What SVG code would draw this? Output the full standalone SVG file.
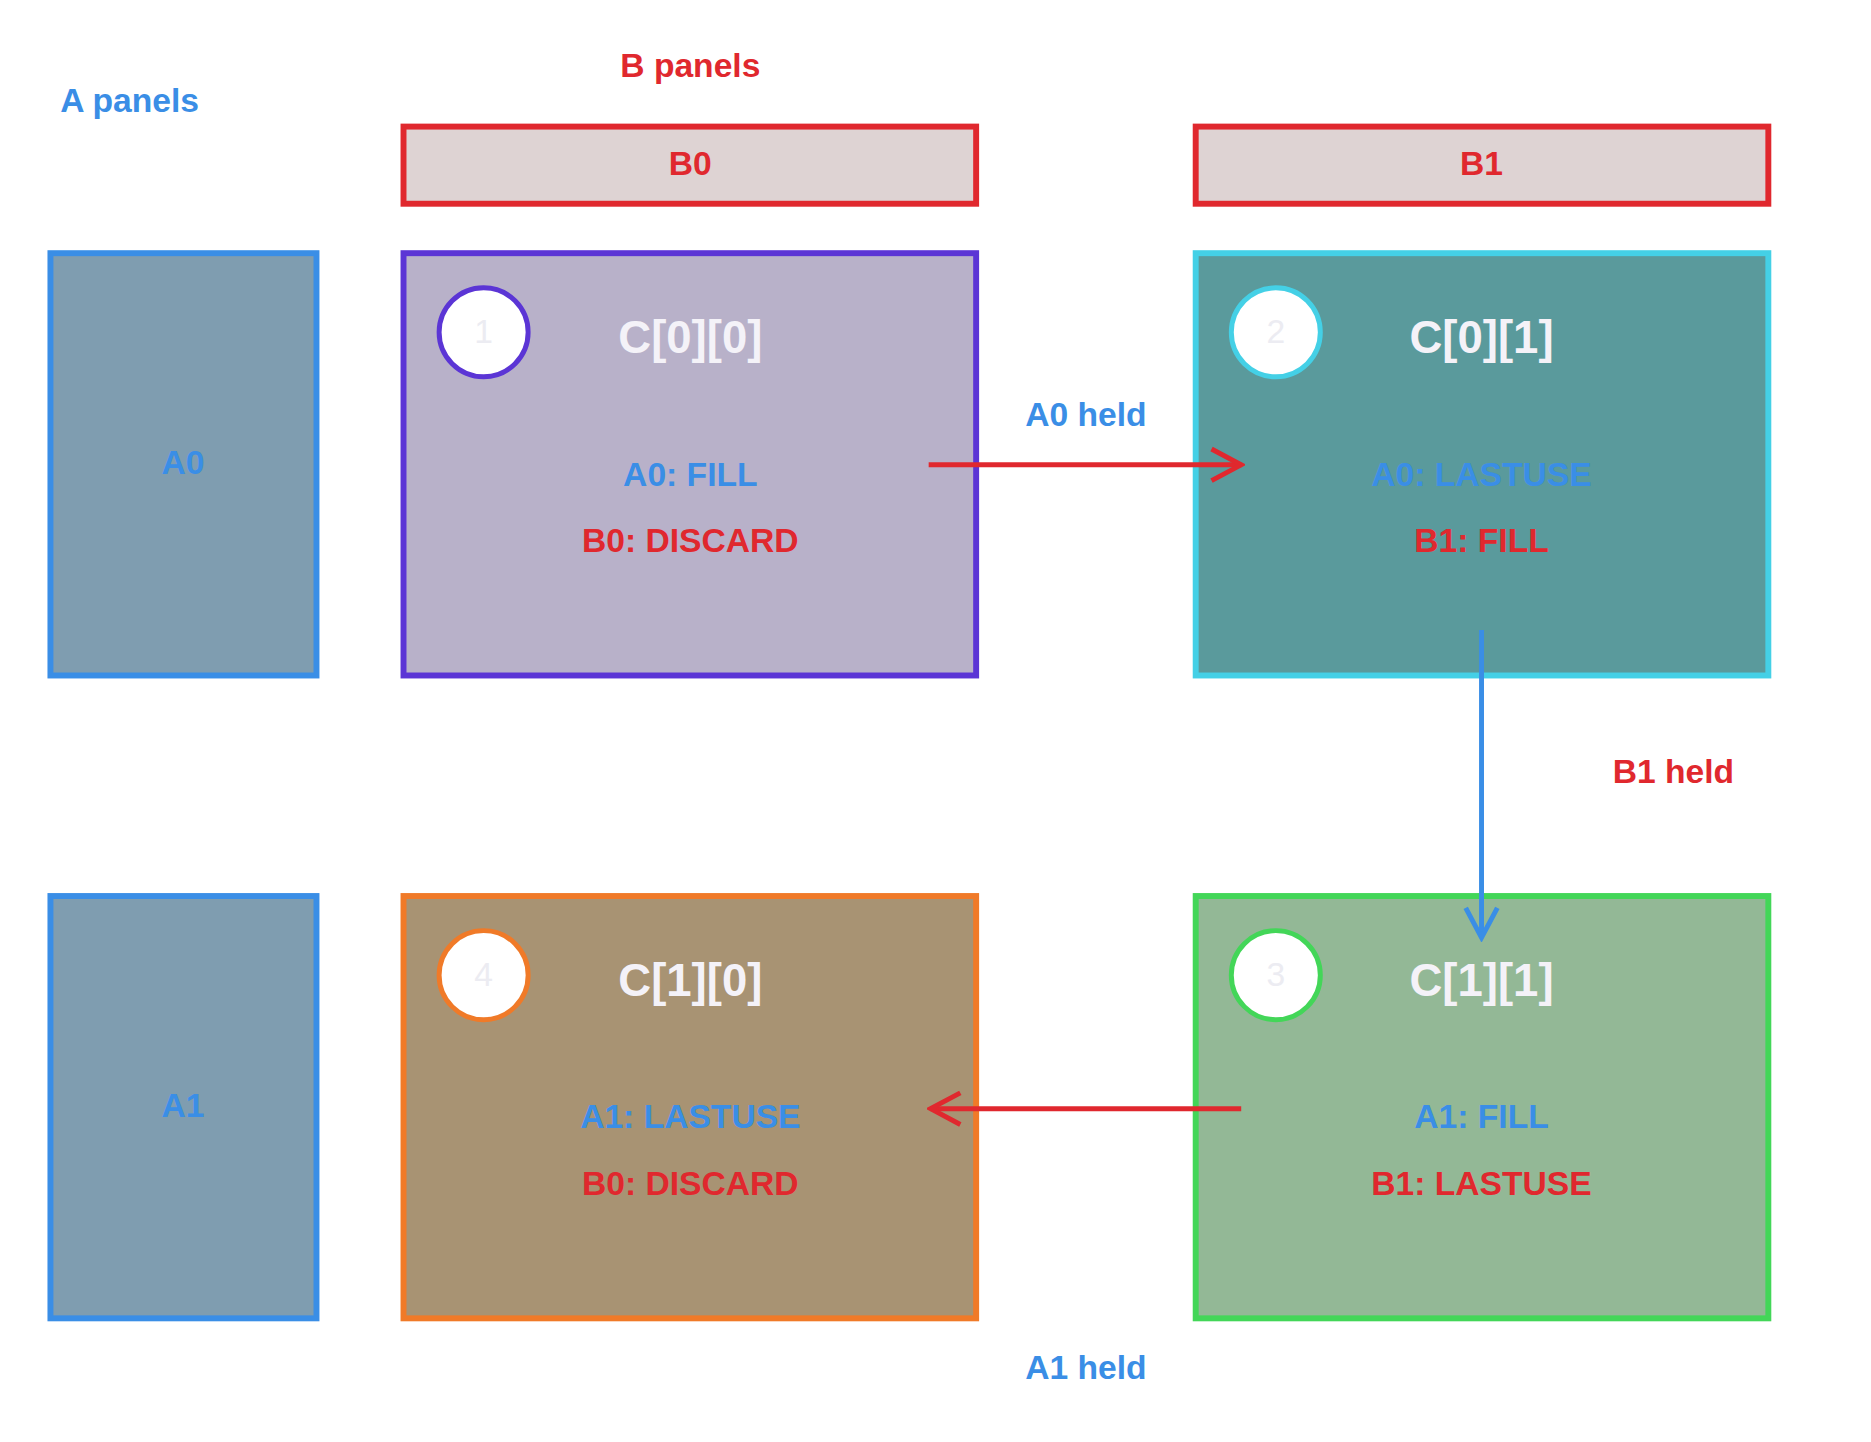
<svg xmlns="http://www.w3.org/2000/svg" width="1871" height="1442" viewBox="0 0 1871 1442">
<style>
text{font-family:"Liberation Sans",Arial,sans-serif;text-anchor:middle;dominant-baseline:middle}
.lbl{font-size:34px;font-weight:bold}
.blue{fill:#3a8ee6}.red{fill:#e0282e}
.title{font-size:46px;fill:#f4f2f8;font-weight:bold}
.num{font-size:34px;fill:#ececf2}
.box{stroke-width:6}
.circ{fill:#fff;stroke-width:5}
</style>
<defs>
<marker id="ar2" viewBox="0 0 40 40" refX="36" refY="20" markerWidth="40" markerHeight="40" markerUnits="userSpaceOnUse" orient="auto"><path d="M6 4 L36 20 L6 36" fill="none" stroke="#e0282e" stroke-width="5"/></marker>
<marker id="ar3" viewBox="0 0 40 40" refX="36" refY="20" markerWidth="40" markerHeight="40" markerUnits="userSpaceOnUse" orient="auto"><path d="M6 4 L36 20 L6 36" fill="none" stroke="#3a8ee6" stroke-width="5"/></marker>
</defs>
<g transform="scale(0.989)">
<text class="lbl blue" x="131" y="104">A panels</text>
<text class="lbl red" x="698" y="69">B panels</text>
<g id="B0"><rect class="box" x="408" y="128" width="579" height="78" fill="#ded3d3" stroke="#e0282e"/><text class="lbl red" x="698" y="168" font-weight="normal">B0</text></g>
<g id="B1"><rect class="box" x="1209" y="128" width="579" height="78" fill="#ded3d3" stroke="#e0282e"/><text class="lbl red" x="1498" y="168">B1</text></g>
<g id="A0"><rect class="box" x="51" y="256" width="269" height="427" fill="#7f9db0" stroke="#3a8ee6"/><text class="lbl blue" x="185" y="470" font-weight="normal">A0</text></g>
<g id="A1"><rect class="box" x="51" y="906" width="269" height="427" fill="#7f9db0" stroke="#3a8ee6"/><text class="lbl blue" x="185" y="1120" font-weight="normal">A1</text></g>
<g id="C00"><rect class="box" x="408" y="256" width="579" height="427" fill="#b8b1c9" stroke="#5b35d5"/>
<circle class="circ" cx="489" cy="336" r="45" stroke="#5b35d5"/><text class="num" x="489" y="338">1</text>
<text class="title" x="698" y="345">C[0][0]</text>
<text class="lbl blue" x="698" y="482" font-weight="normal">A0: FILL</text>
<text class="lbl red" x="698" y="549" font-weight="normal">B0: DISCARD</text></g>
<g id="C01"><rect class="box" x="1209" y="256" width="579" height="427" fill="#5a9a9c" stroke="#44d0e6"/>
<circle class="circ" cx="1290" cy="336" r="45" stroke="#44d0e6"/><text class="num" x="1290" y="338">2</text>
<text class="title" x="1498" y="345">C[0][1]</text>
<text class="lbl blue" x="1498" y="482" font-weight="normal">A0: LASTUSE</text>
<text class="lbl red" x="1498" y="549" font-weight="normal">B1: FILL</text></g>
<g id="C10"><rect class="box" x="408" y="906" width="579" height="427" fill="#a89373" stroke="#f07a28"/>
<circle class="circ" cx="489" cy="986" r="45" stroke="#f07a28"/><text class="num" x="489" y="988">4</text>
<text class="title" x="698" y="995">C[1][0]</text>
<text class="lbl blue" x="698" y="1132" font-weight="normal">A1: LASTUSE</text>
<text class="lbl red" x="698" y="1199" font-weight="normal">B0: DISCARD</text></g>
<g id="C11"><rect class="box" x="1209" y="906" width="579" height="427" fill="#93b896" stroke="#43d658"/>
<circle class="circ" cx="1290" cy="986" r="45" stroke="#43d658"/><text class="num" x="1290" y="988">3</text>
<text class="title" x="1498" y="995">C[1][1]</text>
<text class="lbl blue" x="1498" y="1132" font-weight="normal">A1: FILL</text>
<text class="lbl red" x="1498" y="1199" font-weight="normal">B1: LASTUSE</text></g>
<g id="connectors" fill="none" stroke-width="5">
<path d="M939 470 L1255 470" stroke="#e0282e" marker-end="url(#ar2)"/>
<path d="M1498 637 L1498 948" stroke="#3a8ee6" marker-end="url(#ar3)"/>
<path d="M1255 1121 L941 1121" stroke="#e0282e" marker-end="url(#ar2)"/>
<text class="lbl blue" x="1098" y="422" stroke="none">A0 held</text>
<text class="lbl red" x="1692" y="783" stroke="none">B1 held</text>
<text class="lbl blue" x="1098" y="1385" stroke="none">A1 held</text>
</g>
</g>
</svg>
